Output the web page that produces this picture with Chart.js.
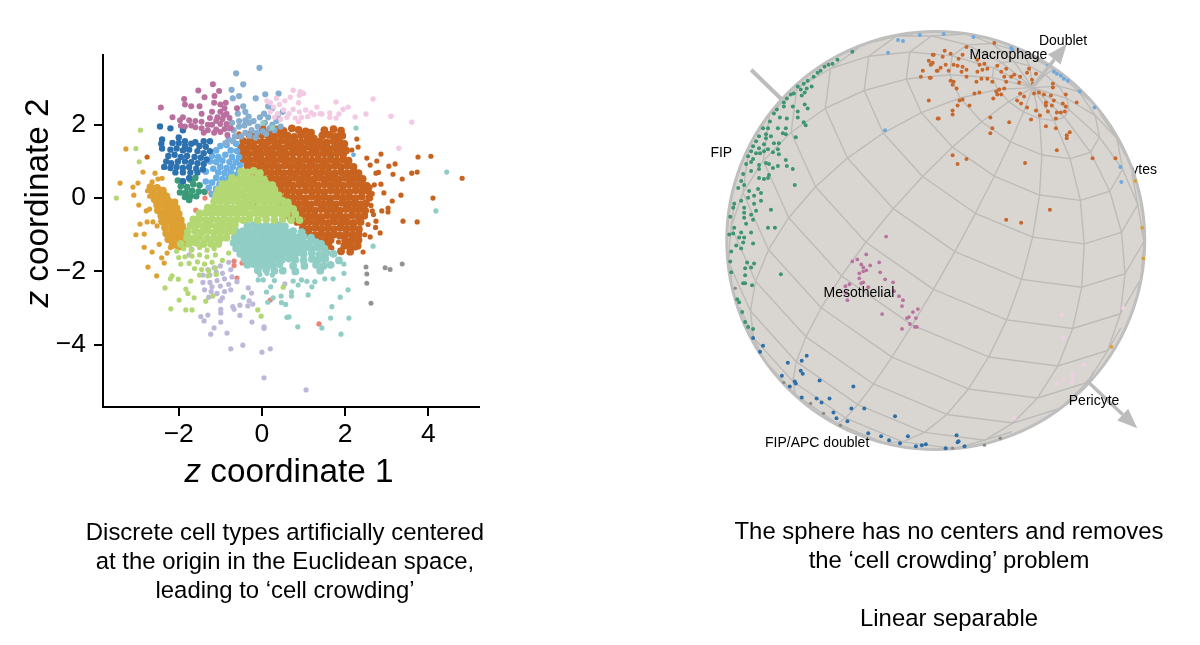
<!DOCTYPE html>
<html><head><meta charset="utf-8">
<style>
html,body{margin:0;padding:0;background:#fff;width:1200px;height:645px;overflow:hidden}
body{position:relative;font-family:"Liberation Sans",Arial,sans-serif;color:#000}
canvas{position:absolute;top:0}
.t{position:absolute;white-space:nowrap;text-align:center}
.cap{font-size:23.9px;line-height:29px}
.ax{font-size:33.3px;line-height:36px}
</style>
<script src="https://cdn.jsdelivr.net/npm/chart.js@4"></script>
</head><body>
<div style="position:absolute;left:0;top:0;width:600px;height:645px"><canvas id="a" width="600" height="645"></canvas></div>
<div style="position:absolute;left:600px;top:0;width:600px;height:645px"><canvas id="b" width="600" height="645"></canvas></div>
<div class="t ax" style="left:89px;top:453px;width:400px"><i>z</i> coordinate 1</div>
<div class="t ax" style="left:-163px;top:185px;width:400px;transform:rotate(-90deg)"><i>z</i> coordinate 2</div>
<div class="t cap" style="left:35px;top:517px;width:500px">Discrete cell types artificially centered<br>at the origin in the Euclidean space,<br>leading to ‘cell crowding’</div>
<div class="t cap" style="left:699px;top:516px;width:500px">The sphere has no centers and removes<br>the ‘cell crowding’ problem<br><br>Linear separable</div>
<script>
const xTickValues=[-2,0,2,4];
const yTickValues=[2,0,-2,-4];
const mauve=[-1.18,3.1,-1.53,2.93,-1.87,2.7,-1.85,2.55,-2.43,2.47,-1.7,2.5,-1.5,2.5,-1.38,2.75,-1.14,2.78,-1.03,2.92,-1.15,2.6,-1,2.55,-.9,2.45,-.87,2.6,-2.15,2.2,-1.45,2.3,-1.2,2.35,-.6,2.45,-1,2.35,-.85,2.3,-1.6,2.1,-1.9,2.2,-1.45,2.08,-1.75,2.12,-1.97,2.12,-1.95,1.97,-1.85,1.95,-1.7,1.98,-1.6,1.93,-1.45,1.9,-1.3,1.85,-1.2,2,-1.1,1.87,-1,1.8,-.9,1.88,-.85,2.02,-.95,2.15,-1.07,2.2,-1.25,2.18,-1.3,2,-1.15,1.78,-1,2.02,-.92,2.25,-1.1,2.1,-1.4,1.78,-.83,1.72,-.75,1.9,-.78,2.18];
const bluegrey=[-.62,3.4,-.06,3.55,-.73,2.95,-.45,3.1,-.15,2.72,-.55,2.78,-.7,2.72,.08,2.83,.4,2.85,.25,2.45,-.45,2.5,-.4,2.35,-.32,2.22,-.4,2.12,-.55,2.1,-.72,2.05,-.8,1.9,-.68,1.85,-.55,1.95,-.42,1.98,-.3,2.05,-.2,2.1,-.05,2.2,.05,2.3,.15,2.2,.07,2.05,-.1,1.95,-.25,1.85,-.4,1.78,-.3,1.7,-.12,1.78,.02,1.82,.18,1.9,.25,2,.35,2.1,-.65,1.68,-.8,1.6,-.7,1.55,-.88,1.5,-.15,1.65,.1,1.75,.3,1.85,.45,1.95,.15,2.5,.38,2.25,.5,2.35,-.58,2.3,-.5,1.68];
const palepink=[.75,2.94,.92,2.9,1,2.85,.9,2.8,.68,2.75,.55,2.65,.88,2.6,.42,2.55,.28,2.48,.52,2.4,.65,2.3,.38,2.3,.2,2.35,.75,2.42,.9,2.35,1.05,2.4,1.18,2.33,1.32,2.48,1.25,2.28,1.4,2.3,.3,2.2,.45,2.15,.6,2.2,.8,2.18,.95,2.2,1.1,2.22,.88,2.08,1.44,2.29,1.63,2.32,1.63,2.2,1.78,2.62,2.67,2.7,2.07,2.48,1.95,2.42,3.1,2.23,3.6,2.07,2.5,2.29,2.24,2.21,1.85,2.29,1.78,2.18,3.29,1.36,.12,2.65,.2,2.6,.35,2.72];
const blue=[-2.45,1.95,-2.2,1.9,-1.9,1.85,-2.4,1.6,-2.42,1.48,-2.4,1.35,-1.85,1.55,-1.6,1.52,-1.4,1.55,-1.25,1.55,-2,1.65,-2.15,1.5,-2,1.5,-1.85,1.42,-1.7,1.48,-1.5,1.42,-1.35,1.4,-1.25,1.28,-2.2,1.32,-2.05,1.35,-1.9,1.3,-1.75,1.32,-1.55,1.28,-1.4,1.22,-2.25,1.15,-2.1,1.18,-1.95,1.12,-1.8,1.15,-1.62,1.12,-1.47,1.1,-1.33,1.05,-2.3,1,-2.18,.95,-2.02,1,-1.85,1,-1.7,.98,-1.55,.95,-1.4,.93,-2.35,.85,-2.2,.82,-2.05,.85,-1.9,.82,-1.75,.85,-1.58,.8,-1.42,.78,-2.08,.7,-1.9,.7,-1.72,.7,-1.55,.7,-1.75,.55,-1.9,.46];
const lightblue=[-.62,1.48,-.85,1.45,-1,1.42,-1.1,1.3,-.75,1.3,-.6,1.28,-1.2,1.15,-1.05,1.12,-.88,1.18,-.72,1.12,-.55,1.12,-1.25,1,-1.1,.98,-.95,1.02,-.78,.98,-.62,.98,-.52,.9,-1,.85,-.85,.82,-.7,.85,-.55,.78,-1.17,.8,-1.35,.72,-1.05,.7,-.9,.68,-.75,.7,-.6,.65,-1.1,.55,-.95,.52,-.8,.55,-1.35,.45,-1.2,.42,-1.02,.38,-.88,.42,-1.28,.28,-1.1,.25,-.95,.25,-1,.12,-1.2,.1];
const darkgreen=[-2.02,.48,-1.9,.45,-1.72,.5,-1.6,.55,-1.95,.32,-1.8,.3,-1.65,.38,-1.5,.35,-1.97,.15,-1.83,.15,-1.68,.2,-1.52,.18,-1.38,.17,-1.85,.03,-1.72,.05,-1.58,.05,-1.75,-.05];
const golden=[-3.27,1.34,-2.86,.71,-2.57,.68,-3.41,.41,-3.1,.3,-2.98,.41,-3.08,.08,-2.96,-.19,-2.93,-.71,-2.76,-.65,-2.62,-.65,-2.52,-.76,-2.5,.52,-2.4,.54,-2.64,.44,-3.03,-1,-2.83,-.98,-2.83,-1.34,-2.64,-1.47,-2.74,-1.88,-2.53,-2.12,-2.47,-1.26,-2.35,-1.77,-2.41,-1.63,-2.28,-1.5,-2.2,-1.35,-2.75,.2,-2.7,.05,-2.78,-.35,-2.7,-.3];
const goldenCore=[-2.68,.3,-2.52,.28,-2.38,.2,-2.62,.13,-2.45,.12,-2.3,.05,-2.58,-.03,-2.42,-.02,-2.25,-.08,-2.1,-.12,-2.52,-.18,-2.36,-.18,-2.2,-.24,-2.05,-.28,-2.5,-.33,-2.33,-.34,-2.17,-.38,-2,-.43,-2.42,-.48,-2.26,-.5,-2.1,-.54,-1.95,-.6,-2.4,-.63,-2.24,-.65,-2.08,-.7,-1.92,-.76,-2.33,-.8,-2.16,-.82,-2,-.86,-1.85,-.9,-2.3,-.96,-2.14,-.98,-1.98,-1,-1.85,-1.05,-2.25,-1.12,-2.08,-1.15,-1.92,-1.18,-2.15,-1.28,-2,-1.32,-1.85,-1.22];
const lightgreen=[-3.5,.0,-2.95,.99,-2.92,1.85,-3.03,1.35,-2.16,-2.12,-2.01,-2.21,-1.71,-2.26,-2.33,-2.45,-1.83,-2.48,-1.78,-2.6,-1.63,-2.72,-1.99,-2.78,-2.19,-3.02,-1.83,-3.05,-1.68,-3.05,-1.35,-2.81,-.1,-3.05,-.02,-3.22,.51,-2.43,-1.18,-2.67,-2.05,-1.45,-1.88,-1.38,-1.7,-1.42,-1.5,-1.35,-1.32,-1.42,-1.15,-1.38,-2,-1.62,-1.85,-1.6,-1.68,-1.58,-1.5,-1.55,-1.32,-1.6,-1.12,-1.55,-1.95,-1.8,-1.75,-1.78,-1.55,-1.74,-1.38,-1.8,-1.2,-1.75,-1.62,-1.92,-1.45,-1.95,-1.28,-1.98,-1.12,-1.9,-1.5,-2.1,-1.3,-2.12,-1.1,-2.08,-.95,-1.7,-.8,-1.5,-2.2,-2.2];
const lightgreenCore=[-.5,.72,-.35,.7,-.2,.74,-.05,.68,-.72,.55,-.55,.52,-.4,.56,-.25,.53,-.1,.55,.05,.5,-.95,.38,-.8,.4,-.65,.36,-.5,.4,-.35,.37,-.2,.4,-.05,.36,.1,.39,.25,.35,-1.05,.22,-.9,.24,-.75,.2,-.6,.23,-.45,.2,-.3,.24,-.15,.2,0,.23,.15,.2,.3,.23,-1.1,.07,-.95,.05,-.8,.08,-.65,.05,-.5,.07,-.35,.04,-.2,.08,-.05,.05,.1,.07,.25,.04,.4,.07,-1.15,-.1,-1,-.08,-.85,-.11,-.7,-.08,-.55,-.12,-.4,-.09,-.25,-.1,-.1,-.08,.05,-.11,.2,-.09,.35,-.1,.5,-.08,.62,-.12,-1.3,-.26,-1.15,-.24,-1,-.27,-.85,-.25,-.7,-.28,-.55,-.25,-.4,-.27,-.25,-.24,-.1,-.27,.05,-.25,.2,-.28,.35,-.25,.5,-.27,.65,-.25,.75,-.3,-1.5,-.42,-1.35,-.4,-1.2,-.43,-1.05,-.4,-.9,-.44,-.75,-.41,-.6,-.43,-.45,-.4,-.3,-.44,-.15,-.41,0,-.43,.15,-.4,.3,-.44,.45,-.41,.6,-.43,.8,-.44,-1.65,-.58,-1.5,-.56,-1.35,-.6,-1.2,-.57,-1.05,-.6,-.9,-.57,-.75,-.6,-.6,-.57,-.45,-.6,-.3,-.56,-.1,-.6,.1,-.58,.3,-.6,.5,-.57,.7,-.6,.9,-.6,-1.72,-.75,-1.55,-.72,-1.4,-.76,-1.25,-.73,-1.1,-.77,-.95,-.74,-.8,-.76,-.65,-.73,-1.78,-.92,-1.6,-.9,-1.45,-.93,-1.3,-.9,-1.15,-.94,-1,-.91,-.85,-.93,-.7,-.9,-1.8,-1.08,-1.65,-1.1,-1.5,-1.07,-1.32,-1.1,-1.15,-1.08,-1,-1.1,-.85,-1.08,-1.95,-1.25,-1.75,-1.25,-1.58,-1.22,-1.4,-1.25,-1.22,-1.25,-1.05,-1.25];
const lavender=[-1.47,-3.23,-1.39,-3.35,-1.3,-3.19,-.99,-3.03,-.99,-3.13,-.7,-2.96,-.67,-3.03,-.53,-2.92,-.31,-2.8,-.22,-2.89,-.34,-2.94,-.53,-3.2,-.99,-3.38,-1.15,-3.54,-1.23,-3.71,-.84,-3.68,-.24,-3.38,.05,-3.51,.05,-3.55,-.46,-4.01,-.75,-4.11,0,-4.2,.2,-4.11,.05,-4.9,1.06,-5.23,-1,-2.8,-.33,-2.45,-.25,-2.59,.55,-2.34,-1.42,-2.1,-1.3,-1.95,-1.15,-1.9,-1,-1.85,-.8,-1.75,-.75,-1.95,-.95,-2.05,-1.1,-2.02,-1.25,-2.1,-1.42,-2.3,-1.25,-2.3,-1.08,-2.25,-.9,-2.2,-.72,-2.15,-.6,-2.28,-.8,-2.35,-1,-2.4,-1.2,-2.42,-1.38,-2.5,-1.22,-2.55,-1.08,-2.6,-.9,-2.55,-.75,-2.5,-.95,-2.72,-1.28,-2.7,-1.75,-1.55,-1.68,-1.4];
const teal=[-.09,-2.23,.03,-2.23,.21,-2.42,.11,-2.56,.75,-2.26,.95,-2.23,1.08,-2.27,1.27,-2.28,.87,-2.37,1.2,-2.42,.71,-2.56,.71,-2.67,1.11,-2.64,.46,-2.67,.27,-2.72,.47,-2.85,.57,-2.9,.14,-2.84,-.45,-2.7,1.88,-2.7,2.07,-2.5,1.71,-2.2,1.51,-2.2,1.97,-2.05,1.97,-1.8,1.68,-2.96,1.65,-3.27,2.09,-3.27,1.9,-3.71,1.44,-3.54,.86,-3.51,.65,-3.24,.6,-3.25,2.67,-1.31,4.44,.71,4.18,-.35,2.26,1.91,.02,2.05,.25,1.92,-.05,-2.08,.12,-2.05,.25,-2.1,.3,-2.25];
const tealCore=[-.35,-.76,-.2,-.74,-.05,-.78,.1,-.75,.25,-.78,.4,-.74,.55,-.77,-.6,-.92,-.45,-.9,-.3,-.93,-.15,-.9,0,-.93,.15,-.9,.3,-.93,.45,-.9,.6,-.93,.75,-.9,.95,-.93,-.65,-1.07,-.5,-1.05,-.35,-1.08,-.2,-1.05,-.05,-1.08,.1,-1.05,.25,-1.08,.4,-1.05,.55,-1.08,.7,-1.05,.85,-1.08,1,-1.05,1.18,-1.08,-.68,-1.22,-.52,-1.2,-.37,-1.23,-.22,-1.2,-.07,-1.23,.08,-1.2,.23,-1.23,.38,-1.2,.53,-1.23,.68,-1.2,.83,-1.23,.98,-1.2,1.13,-1.23,1.3,-1.2,1.42,-1.25,-.62,-1.37,-.45,-1.35,-.3,-1.38,-.15,-1.35,0,-1.38,.15,-1.35,.3,-1.38,.45,-1.35,.6,-1.38,.75,-1.35,.9,-1.38,1.05,-1.35,1.2,-1.38,1.35,-1.35,1.5,-1.38,-.52,-1.52,-.37,-1.5,-.22,-1.53,-.07,-1.5,.08,-1.53,.23,-1.5,.38,-1.53,.53,-1.5,.68,-1.53,.83,-1.5,1,-1.53,1.2,-1.5,1.38,-1.55,1.55,-1.5,1.72,-1.52,-.42,-1.67,-.27,-1.65,-.12,-1.68,.03,-1.65,.18,-1.68,.33,-1.65,.48,-1.68,.65,-1.65,.8,-1.68,1,-1.7,1.2,-1.66,1.35,-1.68,1.52,-1.66,-.35,-1.82,-.2,-1.8,-.05,-1.83,.1,-1.8,.25,-1.83,.42,-1.8,.75,-1.85,1.02,-1.85,1.3,-1.82,1.48,-1.85,1.65,-1.82,1.85,-1.7,-.1,-1.97,.1,-1.95,.3,-1.98,.5,-1.98,.8,-2,1.4,-1.98];
const orange=[-2.76,1.12,2.86,1.2,3.75,1.12,4.06,1.14,4.81,.54,2.76,1.01,3.05,.87,3.2,.93,3.15,.65,3.6,.68,3.73,.71,3.37,.52,2.86,.38,2.93,.14,3.34,.08,4.11,0,3.13,-.08,3.03,-.27,3.03,-.38,2.88,-.35,2.74,-.63,2.73,-.8,3.39,-.63,3.73,-.65,2.28,1.61,2.31,1.39,2.16,1.31,2.52,1.09,2.6,.9,2.74,.68,2.8,.7,2.7,.36,2.43,-1.47,2.24,-1.36,1.68,-1.36,1.84,-1.2,2.6,-1.06,2.47,-1,2.84,-.95,2.6,.3,2.65,.12,2.62,-.2,2.68,-.45,2.55,-.72,2.65,-.35,-.6,1.68,-.55,1.75,-.15,-.15];
const orangeCore=[.02,1.88,.2,1.84,.36,1.87,.52,1.83,.72,1.9,.88,1.86,1.05,1.82,1.18,1.78,1.5,1.85,1.72,1.88,1.9,1.84,-.3,1.72,-.15,1.69,0,1.73,.16,1.7,.31,1.68,.47,1.72,.62,1.7,.78,1.67,.94,1.71,1.09,1.68,1.25,1.62,1.45,1.7,1.62,1.72,1.78,1.68,1.93,1.7,-.45,1.55,-.3,1.53,-.15,1.56,0,1.53,.16,1.55,.31,1.52,.47,1.56,.62,1.53,.78,1.55,.94,1.52,1.09,1.55,1.25,1.5,1.4,1.54,1.56,1.52,1.72,1.55,1.87,1.52,1.98,1.48,-.5,1.38,-.35,1.36,-.2,1.39,-.05,1.36,.1,1.38,.25,1.35,.4,1.39,.55,1.36,.7,1.39,.85,1.37,1,1.36,1.15,1.39,1.3,1.36,1.45,1.38,1.6,1.35,1.75,1.38,1.9,1.36,2.02,1.3,-.47,1.22,-.32,1.2,-.17,1.23,-.02,1.2,.13,1.22,.28,1.19,.43,1.23,.58,1.2,.74,1.23,.9,1.22,1.05,1.19,1.2,1.22,1.35,1.19,1.5,1.22,1.65,1.19,1.8,1.22,1.95,1.19,-.45,1.05,-.3,1.03,-.15,1.06,0,1.03,.15,1.05,.3,1.02,.45,1.06,.6,1.03,.75,1.05,.9,1.02,1.05,1.05,1.2,1.02,1.35,1.05,1.5,1.02,1.65,1.05,1.8,1.02,1.95,1.05,2.08,1.02,-.35,.88,-.2,.86,-.05,.89,.1,.86,.25,.88,.4,.85,.55,.89,.7,.86,.85,.88,1,.85,1.15,.88,1.3,.85,1.45,.88,1.6,.85,1.75,.88,1.9,.85,2.05,.88,2.2,.85,-.22,.71,-.07,.69,.08,.72,.23,.69,.38,.71,.53,.68,.68,.7,.85,.71,1,.68,1.15,.71,1.3,.68,1.45,.71,1.6,.68,1.75,.68,1.9,.71,2.05,.68,2.2,.71,2.32,.68,-.1,.54,.05,.52,.2,.55,.35,.52,.5,.54,.65,.51,.8,.55,.95,.52,1.1,.54,1.25,.51,1.4,.55,1.55,.52,1.7,.54,1.85,.51,2,.55,2.15,.52,2.3,.54,2.42,.52,0,.37,.15,.35,.3,.38,.45,.35,.6,.37,.75,.34,.9,.38,1.05,.35,1.2,.37,1.35,.34,1.5,.38,1.65,.35,1.8,.37,1.95,.34,2.1,.38,2.25,.35,2.4,.37,2.52,.33,.15,.2,.3,.18,.45,.21,.6,.18,.75,.2,.9,.17,1.05,.21,1.2,.18,1.35,.2,1.5,.17,1.65,.21,1.8,.18,1.95,.2,2.1,.17,2.25,.21,2.4,.18,2.55,.2,.3,.03,.45,.01,.6,.04,.75,.01,.9,.03,1.05,0,1.2,.04,1.35,.01,1.5,.03,1.65,0,1.8,.04,1.95,.01,2.1,.03,2.25,0,2.4,.04,2.58,.01,.42,-.14,.57,-.16,.72,-.13,.87,-.16,1.02,-.14,1.17,-.17,1.32,-.13,1.47,-.16,1.62,-.14,1.77,-.17,1.92,-.13,2.07,-.16,2.22,-.14,2.37,-.17,2.5,-.14,.52,-.31,.67,-.33,.82,-.3,.97,-.33,1.12,-.31,1.27,-.34,1.42,-.3,1.57,-.33,1.72,-.31,1.87,-.34,2.02,-.3,2.17,-.33,2.32,-.31,2.48,-.34,.66,-.48,.81,-.5,.96,-.47,1.11,-.5,1.26,-.48,1.41,-.51,1.56,-.47,1.71,-.5,1.86,-.48,2.01,-.51,2.16,-.47,2.31,-.5,2.46,-.48,.85,-.65,1,-.67,1.15,-.64,1.3,-.67,1.45,-.65,1.6,-.68,1.75,-.64,1.9,-.67,2.05,-.65,2.2,-.68,2.37,-.65,.98,-.82,1.13,-.84,1.28,-.81,1.43,-.84,1.58,-.82,1.73,-.85,1.88,-.81,2.03,-.84,2.18,-.82,2.33,-.85,1.12,-.99,1.27,-1.01,1.42,-.98,1.57,-1.01,1.72,-.99,1.87,-1.02,2.02,-.98,2.17,-1.01,2.32,-.99,1.35,-1.15,1.5,-1.17,1.65,-1.14,2,-1.15,2.15,-1.17,2.32,-1.14,1.6,-1.3,1.98,-1.3,2.12,-1.32,2.3,-1.3,1.9,-1.45,2.12,-1.46];
const salmon=[-.67,-1.72,-.67,-1.84,-.48,-1.77,-.6,-2.18,-.19,-1.23,.2,-2.78,1.37,-3.43,1.25,-1.14,-1.23,.14,-1.37,0,-1.03,.05,-.79,.52,-1.59,-.33];
const grey=[2.5,-1.88,2.52,-2.07,2.52,-2.32,2.62,-2.87,2.96,-1.9,3.08,-1.95,3.37,-1.8,-.85,.4,-.8,.3];
const strayGreen=[.7,1.28,.63,1.13,.5,.71,.75,.68,-.2,.1];
const strayTeal=[1.59,.74,1.98,.67,1.55,-.4,2.02,.93,-.3,.95,-.75,.3];
const strayBlue=[.31,.27,.25,.05,.4,-.05,.35,-1.1,2.2,1.18];

const sphereGreen=[-84,190,-99,182,-104,178,-108,177,-112,175,-116,171,-119,169,-123,165,-129,161,-133,158,-139,155,-125,155,-130,153,-136,152,-143,148,-146,147,-150,143,-132,149,-135,146,-153,139,-144,135,-153,135,-160,132,-163,128,-132,137,-129,133,-157,124,-150,123,-139,130,-139,124,-167,120,-174,113,-169,113,-159,113,-151,113,-133,119,-131,116,-171,107,-166,105,-154,108,-151,107,-141,104,-178,105,-181,100,-184,95,-171,103,-163,98,-158,98,-173,97,-178,93,-169,92,-159,92,-186,90,-181,88,-177,88,-173,90,-164,89,-189,85,-158,87,-184,82,-186,79,-191,77,-171,78,-168,77,-151,81,-178,76,-159,75,-150,75,-164,73,-186,70,-194,67,-144,72,-178,72,-168,66,-169,63,-173,62,-178,63,-196,60,-199,53,-193,56,-179,52,-142,56,-188,50,-176,48,-183,45,-189,43,-196,40,-203,37,-176,40,-183,37,-193,33,-204,33,-166,31,-181,30,-193,28,-186,26,-207,24,-193,23,-184,21,-191,17,-203,13,-169,13,-162,13,-186,8,-196,8,-204,7,-198,3,-193,3,-208,6,-194,-2,-201,-5,-184,-3,-206,-11,-196,-8,-207,-21,-190,-22,-183,-23,-186,-27,-192,-28,-206,-32,-192,-35,-156,-34,-194,-43,-192,-43,-185,-45,-200,-59,-198,-62,-195,-72,-192,-82,-189,-87,-184,-89];
const sphereOrange=[59,199,31,195,9,191,15,188,-3,187,7,185,23,183,27,187,42,182,-4,178,10,177,5,174,18,177,22,176,27,175,31,172,26,170,1,171,13,171,-6,164,31,165,44,177,49,178,52,173,42,170,47,172,62,176,66,170,71,173,69,165,76,165,79,167,85,165,84,159,71,160,94,173,92,169,101,168,97,162,98,158,15,161,18,160,17,157,21,153,41,160,46,163,52,163,57,160,39,148,44,149,61,150,64,152,69,153,62,147,66,147,58,143,24,141,27,142,34,136,22,136,17,131,17,127,2,123,55,124,74,119,57,113,55,108,85,148,89,145,82,141,86,138,92,134,101,131,96,122,105,126,99,148,104,149,109,147,116,146,111,139,119,141,111,136,117,136,131,147,128,138,131,135,113,130,122,129,126,129,130,130,121,123,111,115,121,113,135,109,132,106,132,103,118,158,118,154,142,139,122,91,158,83,181,83,17,86,31,82,22,77,90,78,115,31,71,21,86,18,-2,187,-7,181,-3,179,-5,177,-13,171,2,171,-15,165,-5,164,-7,141,3,123];
const sphereLightBlue=[8,208,38,205,76,194,77,192,113,176,119,170,122,168,126,166,129,163,133,161,145,150,160,134,186,74,187,59,-16,207,-38,202,-33,201,-48,189,-51,111];
const sphereGolden=[201,60,208,13,209,-18,177,-107];
const sphereMauve=[-50,4,-70,-14,-84,-21,-79,-19,-57,-22,-75,-24,-73,-27,-66,-25,-70,-30,-73,-31,-77,-33,-56,-32,-77,-38,-51,-39,-43,-42,-73,-42,-75,-43,-87,-44,-91,-46,-68,-47,-42,-51,-89,-60,-90,-53,-37,-56,-33,-60,-34,-66,-18,-69,-23,-72,-54,-74,-27,-77,-29,-78,-20,-78,-26,-84,-21,-87,-19,-87,-34,-89];
const sphereBlue=[-174,-106,-177,-112,-184,-98,-130,-116,-135,-121,-149,-123,-136,-131,-134,-134,-155,-136,-117,-141,-142,-142,-141,-144,-147,-147,-83,-147,-135,-158,-120,-159,-107,-159,-115,-163,-72,-169,-85,-169,-103,-173,-100,-179,-41,-177,-89,-182,-68,-194,-55,-197,-47,-201,-28,-197,-36,-204,-20,-207,-14,-206,-10,-205,10,-209,21,-196,22,-203,23,-202,29,-207];
const sphereGrey=[-202,-48,-126,-164,-113,-174,-96,-186,-153,-143,17,-209,65,-199,49,-206];
const spherePink=[127,-75,128,-98,138,-135,138,-139,122,-144,149,-125,129,-140,79,-179,189,-68,137,-143];

const sphereLabels=["FIP","Macrophage","Doublet","Mesothelial","FIP/APC doublet","Pericyte"];
const hiddenLabel="cytes";

function pts(a){const r=[];for(let i=0;i<a.length;i+=2)r.push({x:a[i],y:a[i+1]});return r;}
function ds(name,a,c,r){return {label:name,data:pts(a),backgroundColor:c,borderColor:c,pointRadius:r,pointBorderWidth:0,pointHoverRadius:r};}
const C={orange:'#c8621f',lg:'#b3d772',teal:'#90cdc5',gold:'#dea032',blue:'#2d72ae',lb:'#69aee5',mauve:'#b9709f',bg:'#86aed1',pp:'#f4c9e3',lav:'#bdb7da',dg:'#3b9a78',sal:'#ec8476',grey:'#929292'};

new Chart(document.getElementById('a'),{type:'scatter',
 data:{datasets:[
  ds('lightgreen',lightgreen,C.lg,2.6),ds('lightgreenCore',lightgreenCore,C.lg,3.9),
  ds('lavender',lavender,C.lav,2.6),ds('teal',teal,C.teal,2.6),ds('tealCore',tealCore,C.teal,3.9),
  ds('palepink',palepink,C.pp,2.7),ds('mauve',mauve,C.mauve,3),ds('bluegrey',bluegrey,C.bg,3.1),
  ds('blue',blue,C.blue,3.2),ds('lightblue',lightblue,C.lb,3.3),ds('darkgreen',darkgreen,C.dg,3.3),
  ds('golden',golden,C.gold,2.6),ds('goldenCore',goldenCore,C.gold,3.9),
  ds('orange',orange,C.orange,2.6),ds('orangeCore',orangeCore,C.orange,3.9),
  ds('salmon',salmon,C.sal,2.6),ds('grey',grey,C.grey,2.5),ds('strayGreen',strayGreen,C.lg,2.6),ds('strayTeal',strayTeal,C.teal,2.4),ds('strayBlue',strayBlue,C.lb,2.4)
 ]},
 options:{responsive:false,animation:false,events:[],
  layout:{padding:{left:0,right:121,top:55,bottom:0}},
  plugins:{legend:{display:false},tooltip:{enabled:false}},
  scales:{
   x:{type:'linear',min:-3.82,max:5.216,afterBuildTicks(s){s.ticks=xTickValues.map(v=>({value:v}));},afterFit(s){s.height=238;},
      border:{display:true,color:'#000',width:2},
      grid:{display:true,drawOnChartArea:false,drawTicks:true,tickLength:9,color:'#000',lineWidth:2},
      ticks:{color:'#000',font:{size:26.5,family:'"Liberation Sans"'},padding:3,maxRotation:0,callback:v=>String(v).replace('-','−')}},
   y:{type:'linear',min:-5.695,max:3.9,afterBuildTicks(s){s.ticks=yTickValues.map(v=>({value:v}));},afterFit(s){s.width=103;},
      border:{display:true,color:'#000',width:2},
      grid:{display:true,drawOnChartArea:false,drawTicks:true,tickLength:9,color:'#000',lineWidth:2},
      ticks:{color:'#000',font:{size:26.5,family:'"Liberation Sans"'},padding:8,callback:v=>String(v).replace('-','−')}}
  }}});

const R=209;
const poleDir=[.464,.732,.499];
const polarAngles=[12,24,36,48,60,72,84,96,108,120,132,144,156,168];
const meridianAngles=[0,24,48,72,96,120,144,168,192,216,240,264,288,312,336];
const meridianPhase=1;
const arrows=[[-186,172,-153,140],[96,153,132,198],[152,-141,203,-189]];

function cross(a,b){return [a[1]*b[2]-a[2]*b[1],a[2]*b[0]-a[0]*b[2],a[0]*b[1]-a[1]*b[0]];}
function norm(a){const l=Math.hypot(...a);return a.map(v=>v/l);}
const e1=norm(cross([0,0,1],poleDir)),e2=cross(poleDir,e1);
function sph(th,ph){th*=Math.PI/180;ph*=Math.PI/180;const s=Math.sin(th),c=Math.cos(th),a=s*Math.cos(ph),b=s*Math.sin(ph);
 return [0,1,2].map(i=>poleDir[i]*c+e1[i]*a+e2[i]*b);}

const spherePlugin={id:'sphere',
 beforeDatasetsDraw(ch){
  const g=ch.ctx,X=v=>ch.scales.x.getPixelForValue(v),Y=v=>ch.scales.y.getPixelForValue(v);
  const cx=X(0),cy=Y(0);
  g.save();
  g.font='14px "Liberation Sans"';g.fillStyle='#000';g.textBaseline='middle';g.textAlign='left';
  g.fillText(hiddenLabel,X(190),Y(71));
  g.strokeStyle='#bcbcbc';
  g.lineWidth=4;g.beginPath();g.moveTo(X(arrows[0][0]),Y(arrows[0][1]));g.lineTo(X(arrows[0][2]),Y(arrows[0][3]));g.stroke();
  g.beginPath();g.arc(cx,cy,R,0,Math.PI*2);g.fillStyle='#d9d6d2';g.fill();
  g.lineWidth=3;g.strokeStyle='#bfbfbf';g.stroke();
  g.beginPath();g.arc(cx,cy,R-1,0,Math.PI*2);g.clip();
  g.strokeStyle='#bdbbb8';g.lineWidth=1.4;
  function seg(a,b){
    if(a[2]<0&&b[2]<0)return;
    let p=a,q=b;
    if(a[2]<0){const t=a[2]/(a[2]-b[2]);p=a.map((v,i)=>v+(b[i]-v)*t);}
    if(b[2]<0){const t=a[2]/(a[2]-b[2]);q=a.map((v,i)=>v+(b[i]-v)*t);}
    g.beginPath();g.moveTo(cx+p[0]*R,cy-p[1]*R);g.lineTo(cx+q[0]*R,cy-q[1]*R);g.stroke();
  }
  for(const th of polarAngles)for(let i=0;i<meridianAngles.length;i++){
    const ph=meridianAngles[i]+meridianPhase,nx=meridianAngles[(i+1)%meridianAngles.length]+meridianPhase;
    seg(sph(th,ph),sph(th,nx));}
  const full=[0,...polarAngles,180];
  for(const ph0 of meridianAngles){const ph=ph0+meridianPhase;
    for(let i=0;i<full.length-1;i++)seg(sph(full[i],ph),sph(full[i+1],ph));}
  g.restore();
 },
 afterDatasetsDraw(ch){
  const g=ch.ctx,X=v=>ch.scales.x.getPixelForValue(v),Y=v=>ch.scales.y.getPixelForValue(v);
  g.save();
  g.strokeStyle='#bcbcbc';g.fillStyle='#bcbcbc';
  for(const a of [arrows[1],arrows[2]]){
    const [x0,y0,x1,y1]=a;const p0=[X(x0),Y(y0)],p1=[X(x1),Y(y1)];
    const an=Math.atan2(p1[1]-p0[1],p1[0]-p0[0]);
    const bx=p1[0]-20*Math.cos(an),by=p1[1]-20*Math.sin(an);
    g.lineWidth=3.5;g.beginPath();g.moveTo(...p0);g.lineTo(bx,by);g.stroke();
    g.beginPath();g.moveTo(...p1);g.lineTo(bx-8*Math.sin(an),by+8*Math.cos(an));g.lineTo(bx+8*Math.sin(an),by-8*Math.cos(an));g.closePath();g.fill();
  }
  g.font='14px "Liberation Sans"';g.fillStyle='#000';g.textBaseline='middle';g.textAlign='left';
  const pos=[[-227,88],[34,187],[104,201],[-113,-53],[-172,-204],[134,-162]];
  sphereLabels.forEach((t,i)=>g.fillText(t,X(pos[i][0]),Y(pos[i][1])));
  g.restore();
 }};

new Chart(document.getElementById('b'),{type:'scatter',
 data:{datasets:[
  ds('green',sphereGreen,'#3d9573',2),ds('orange',sphereOrange,'#c9682c',2),ds('lightblue',sphereLightBlue,'#6fa9dc',2),
  ds('golden',sphereGolden,'#d6a33a',1.9),ds('mauve',sphereMauve,'#b8749f',1.9),ds('blue',sphereBlue,'#2f6fa8',2),
  ds('grey',sphereGrey,'#8c8c86',1.7),ds('pink',spherePink,'#efd0e0',2.2)
 ]},
 plugins:[spherePlugin],
 options:{responsive:false,animation:false,events:[],
  layout:{padding:0},
  plugins:{legend:{display:false},tooltip:{enabled:false}},
  scales:{
   x:{type:'linear',display:false,min:-336,max:264},
   y:{type:'linear',display:false,min:-405,max:240}
  }}});
</script>
</body></html>
